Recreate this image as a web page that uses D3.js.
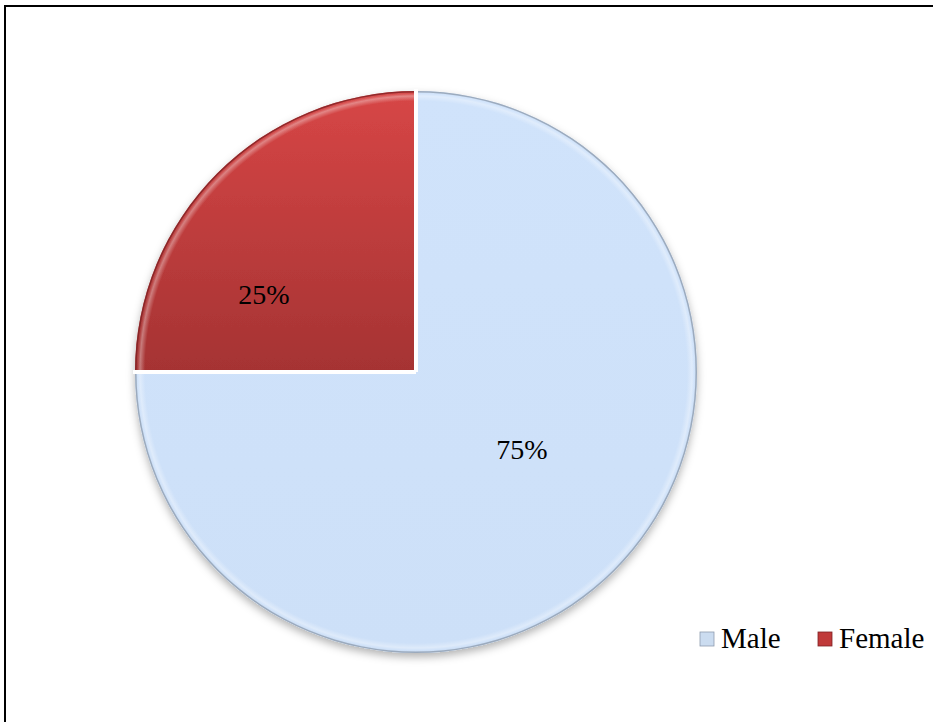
<!DOCTYPE html>
<html><head><meta charset="utf-8">
<script src="https://cdn.jsdelivr.net/npm/d3@7"></script>
<style>body{margin:0;background:#fff}svg{display:block}
text{font-family:"Liberation Serif","Times New Roman",serif}</style>
</head><body>
<script>
const categories = ["Male", "Female"];
const values = [75, 25];
const labels = ["75%", "25%"];
const topColors = ["#d0e3fb", "#d74646"];
const bottomColors = ["#cde0f8", "#a53333"];
const rims = ["#8e9cae", "#7e2224"];

const W = 933, H = 722;
const svg = d3.select("body").append("svg").attr("width", W).attr("height", H);
const defs = svg.append("defs");

const f = defs.append("filter").attr("id","sh").attr("x","-20%").attr("y","-20%").attr("width","140%").attr("height","140%");
f.append("feDropShadow").attr("dx",0).attr("dy",4).attr("stdDeviation",4).attr("flood-color","#000").attr("flood-opacity",0.3);

const cx = 416, cy = 372, R = 281;

topColors.forEach((c,i)=>{
  const g = defs.append("linearGradient").attr("id","g"+i)
    .attr("gradientUnits","userSpaceOnUse").attr("x1",0).attr("y1",-R).attr("x2",0).attr("y2", i ? 0 : R);
  g.append("stop").attr("offset","0%").attr("stop-color", c);
  g.append("stop").attr("offset","100%").attr("stop-color", bottomColors[i]);
});
const hl = defs.append("radialGradient").attr("id","hl")
  .attr("gradientUnits","userSpaceOnUse").attr("cx",0).attr("cy",0).attr("r",R);
hl.append("stop").attr("offset",((R-10)/R*100)+"%").attr("stop-color","#fff").attr("stop-opacity",0);
hl.append("stop").attr("offset",((R-5)/R*100)+"%").attr("stop-color","#fff").attr("stop-opacity",0.35);
hl.append("stop").attr("offset",((R-2.5)/R*100)+"%").attr("stop-color","#fff").attr("stop-opacity",0.05);
hl.append("stop").attr("offset","100%").attr("stop-color","#000").attr("stop-opacity",0.1);

// border
svg.append("rect").attr("x",5).attr("y",6).attr("width",W+10).attr("height",H+10)
  .attr("fill","none").attr("stroke","#000").attr("stroke-width",2);

const pie = d3.pie().sort(null).value(d=>d)(values);
const arc = d3.arc().innerRadius(0).outerRadius(R);
const hlArc = d3.arc().innerRadius(R-11).outerRadius(R-1.5);
const rimArc = d3.arc().innerRadius(R-1.5).outerRadius(R);

const g = svg.append("g").attr("transform",`translate(${cx},${cy})`);
g.append("g").attr("filter","url(#sh)").selectAll("path").data(pie).join("path")
  .attr("d", arc)
  .attr("fill",(d,i)=>`url(#g${i})`);
g.append("g").selectAll("path").data(pie).join("path")
  .attr("d", d=>hlArc({startAngle:d.startAngle+0.006,endAngle:d.endAngle-0.006}))
  .attr("fill","url(#hl)");
g.append("g").selectAll("path").data(pie).join("path")
  .attr("d", d=>rimArc(d))
  .attr("fill",(d,i)=>rims[i]).attr("opacity",0.8);
// separators along slice boundaries
g.append("g").selectAll("line").data(pie).join("line")
  .attr("x1",0).attr("y1",0)
  .attr("x2",d=>d3.pointRadial(d.startAngle,R+2)[0])
  .attr("y2",d=>d3.pointRadial(d.startAngle,R+2)[1])
  .attr("stroke","#fff").attr("stroke-width",4);

const labelPos = [[106,81],[-152,-74]];
g.selectAll("text").data(pie).join("text")
  .attr("x",(d,i)=>labelPos[i][0]).attr("y",(d,i)=>labelPos[i][1])
  .attr("text-anchor","middle").attr("dominant-baseline","middle")
  .attr("font-size",28).attr("fill","#000")
  .text((d,i)=>labels[i]);

// legend
const lg = svg.append("g");
const lx = [700, 818];
categories.forEach((c,i)=>{
  const it = lg.append("g").attr("transform",`translate(${lx[i]},632)`);
  it.append("rect").attr("width",14).attr("height",14)
    .attr("fill", i ? "#c03a3a" : "#cbdcf0")
    .attr("stroke",rims[i]).attr("stroke-width",0.8);
  it.append("text").attr("x",21).attr("y",16)
    .attr("font-size",29).attr("fill","#000").text(c);
});
</script>
</body></html>
